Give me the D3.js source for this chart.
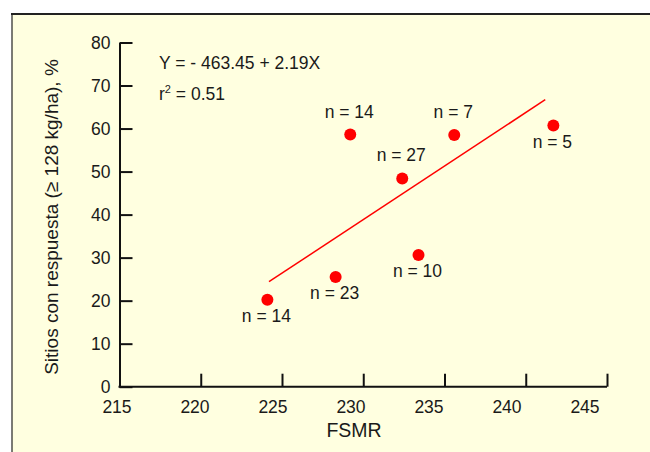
<!DOCTYPE html>
<html>
<head>
<meta charset="utf-8">
<script src="https://cdn.jsdelivr.net/npm/d3@7"></script>
<style>
  html, body { margin: 0; padding: 0; background: #ffffff; }
  svg { display: block; }
  text { font-family: "Liberation Sans", Arial, sans-serif; fill: #1a1a1a; }
</style>
</head>
<body>
<svg id="chart" width="650" height="452"></svg>
<script>
// ---- data ----
const fsmr      = [224.1, 228.3, 229.2, 232.4, 233.4, 235.6, 241.7];
const sitios    = [20.2, 25.5, 58.6, 48.4, 30.6, 58.5, 60.7];
const nLabels   = ["n = 14", "n = 23", "n = 14", "n = 27", "n = 10", "n = 7", "n = 5"];
const labelPos  = ["below", "below", "above", "above", "below", "above", "below"];
const fitX      = [224.2, 241.2];
const fitY      = [24.4, 66.7];
const xTicks    = [215, 220, 225, 230, 235, 240, 245];
const yTicks    = [0, 10, 20, 30, 40, 50, 60, 70, 80];
const equation  = "Y = - 463.45 + 2.19X";
const r2Text    = "0.51";

const svg = d3.select("#chart");
const FS = "17.5px";

// panel
svg.append("rect").attr("x", 12).attr("y", 14).attr("width", 650).attr("height", 452)
  .attr("fill", "#ffffe0");
svg.append("line").attr("x1", 11).attr("x2", 650).attr("y1", 14).attr("y2", 14)
  .attr("stroke", "#222").attr("stroke-width", 2);
svg.append("line").attr("x1", 12).attr("x2", 12).attr("y1", 14).attr("y2", 452)
  .attr("stroke", "#222").attr("stroke-width", 1.2);

// scales
const x = d3.scaleLinear().domain([215, 245]).range([119.5, 607]);
const xLab = d3.scaleLinear().domain([215, 245]).range([117, 585]);
const y = d3.scaleLinear().domain([0, 80]).range([386.7, 42.5]);

// axes
const yAxis = d3.axisLeft(y).tickValues(yTicks).tickSizeInner(-13).tickSizeOuter(0).tickPadding(9);
const gy = svg.append("g").attr("transform", `translate(${x(215)},0)`).call(yAxis);
gy.selectAll("path, line").attr("stroke", "#111").attr("stroke-width", 2);
gy.selectAll("text").style("font-size", FS).style("font-family", '"Liberation Sans", Arial, sans-serif').attr("fill", "#1a1a1a");

const xAxis = d3.axisBottom(x).tickValues(xTicks.slice(1)).tickSizeInner(-13).tickSizeOuter(0).tickFormat("");
const gx = svg.append("g").attr("transform", `translate(0,${y(0)})`).call(xAxis);
gx.selectAll("path, line").attr("stroke", "#111").attr("stroke-width", 2);
gx.select("path").attr("d", `M${x(215) - 1},0H${x(245)}`);

svg.append("g").selectAll("text").data(xTicks).join("text")
  .attr("x", d => xLab(d)).attr("y", 413)
  .attr("text-anchor", "middle").style("font-size", FS)
  .text(d => d);

// axis titles
svg.append("text").attr("x", 354).attr("y", 437).attr("text-anchor", "middle")
  .style("font-size", "19.5px").text("FSMR");
svg.append("text").attr("transform", "translate(58,217) rotate(-90)")
  .attr("text-anchor", "middle").style("font-size", "19px")
  .text("Sitios con respuesta (\u2265 128 kg/ha), %");

// equation
svg.append("text").attr("x", 159).attr("y", 69).style("font-size", FS).text(equation);
const r = svg.append("text").attr("x", 159).attr("y", 100).style("font-size", FS);
r.append("tspan").text("r");
r.append("tspan").attr("dy", -7).style("font-size", "11px").text("2");
r.append("tspan").attr("dy", 7).text(" = " + r2Text);

// regression line
const line = d3.line().x(d => x(d[0])).y(d => y(d[1]));
svg.append("path").datum(d3.zip(fitX, fitY)).attr("d", line)
  .attr("fill", "none").attr("stroke", "#ff0000").attr("stroke-width", 1.5);

// points
const pts = d3.range(fsmr.length);
svg.append("g").selectAll("circle").data(pts).join("circle")
  .attr("cx", i => x(fsmr[i])).attr("cy", i => y(sitios[i])).attr("r", 6)
  .attr("fill", "#ff0000");

svg.append("g").selectAll("text").data(pts).join("text")
  .attr("x", i => x(fsmr[i]) - 1)
  .attr("y", i => y(sitios[i]) + (labelPos[i] === "below" ? 22 : -17))
  .attr("text-anchor", "middle").style("font-size", FS)
  .text(i => nLabels[i]);
</script>
</body>
</html>
